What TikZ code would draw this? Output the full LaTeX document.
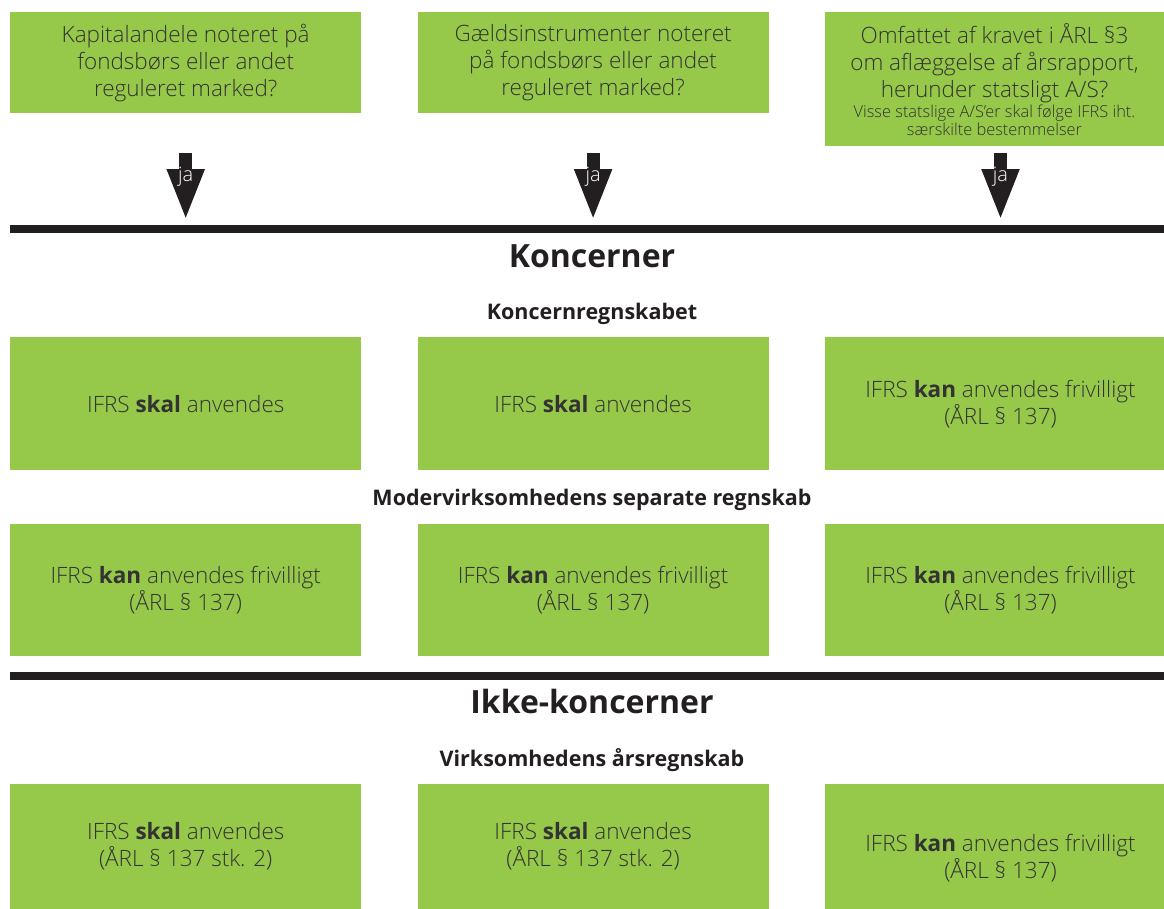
\documentclass[tikz,border=0pt]{standalone}
\usepackage{fontspec}
\setmainfont{Open Sans}[UprightFont=* Light, BoldFont=* Bold]
\usetikzlibrary{positioning, arrows.meta}
\definecolor{boxgreen}{HTML}{96C84A}
\definecolor{textgrey}{HTML}{333333}
\definecolor{bardark}{HTML}{231F20}

\begin{document}
\begin{tikzpicture}[x=1pt, y=-1pt]
\tikzstyle{box}=[rectangle, fill=boxgreen, text=textgrey, minimum width=351pt, inner sep=0pt, align=center, anchor=north west, font=\fontsize{22.5}{27}\selectfont, node distance=56pt]
\tikzstyle{head}=[text=bardark, font=\bfseries\fontsize{32}{36}\selectfont]
\tikzstyle{subhead}=[text=bardark, font=\bfseries\fontsize{21.5}{24}\selectfont]
\tikzstyle{bar}=[line width=8pt, draw=bardark]
\tikzstyle{ja}=[line width=13pt, draw=bardark, -{Triangle[width=34pt, length=52pt]}]
\useasboundingbox (0,0) rectangle (1164,908);
    % spoergsmaal
    \node[box, minimum height=101pt] (Q1) at (10,12) {Kapitalandele noteret på\\fondsbørs eller andet\\reguleret marked?};
    \node[box, minimum height=101pt, right=of Q1.north east, anchor=north west] (Q2) {Gældsinstrumenter noteret\\på fondsbørs eller andet\\reguleret marked?};
    \node[box, minimum height=134pt, minimum width=339pt, right=of Q2.north east, anchor=north west] (Q3) {Omfattet af kravet i ÅRL §3\\om aflæggelse af årsrapport,\\herunder statsligt A/S?\\[-7pt]\fontsize{16.4}{18}\selectfont Visse statslige A/S’er skal følge IFRS iht.\\[-9pt]\fontsize{16.4}{18}\selectfont særskilte bestemmelser};
    % koncernregnskab
    \node[box, minimum height=133pt] (A1) at (10,337) {IFRS \textbf{skal} anvendes};
    \node[box, minimum height=133pt, right=of A1.north east, anchor=north west] (A2) {IFRS \textbf{skal} anvendes};
    \node[box, minimum height=133pt, right=of A2.north east, anchor=north west] (A3) {IFRS \textbf{kan} anvendes frivilligt\\(ÅRL § 137)};
    \foreach \i in {1,2,3} {
        \coordinate (s\i) at (A\i.north |- Q\i.south);
        \coordinate (s\i) at (s\i |- 0,153);
        \coordinate (t\i) at (s\i |- 0,221);
        \path (s\i) edge[ja] node[pos=0.35, text=white, font=\fontsize{20}{24}\selectfont] {ja} (t\i);
    }
    \coordinate (L1) at (10,229);
    \coordinate (R1) at (1164,229);
    \draw[bar] (L1) -- (R1);
    \node[head] (K) at (592,256) {Koncerner};
    \node[subhead] (KR) at (592,314) {Koncernregnskabet};
    \node[subhead] (MR) at (592,500) {Modervirksomhedens separate regnskab};
    % separat regnskab
    \node[box, minimum height=132pt] (B1) at (10,524) {IFRS \textbf{kan} anvendes frivilligt\\(ÅRL § 137)};
    \node[box, minimum height=132pt, right=of B1.north east, anchor=north west] (B2) {IFRS \textbf{kan} anvendes frivilligt\\(ÅRL § 137)};
    \node[box, minimum height=132pt, right=of B2.north east, anchor=north west] (B3) {IFRS \textbf{kan} anvendes frivilligt\\(ÅRL § 137)};
    \coordinate (L2) at (10,676);
    \coordinate (R2) at (1164,676);
    \draw[bar] (L2) -- (R2);
    \node[head] (IK) at (592,701) {Ikke-koncerner};
    \node[subhead] (VR) at (592,760) {Virksomhedens årsregnskab};
    % aarsregnskab
    \node[box, minimum height=125pt] (C1) at (10,784) {IFRS \textbf{skal} anvendes\\(ÅRL § 137 stk. 2)};
    \node[box, minimum height=125pt, right=of C1.north east, anchor=north west] (C2) {IFRS \textbf{skal} anvendes\\(ÅRL § 137 stk. 2)};
    \node[box, minimum height=148pt, right=of C2.north east, anchor=north west] (C3) {IFRS \textbf{kan} anvendes frivilligt\\(ÅRL § 137)};
\end{tikzpicture}
\end{document}
